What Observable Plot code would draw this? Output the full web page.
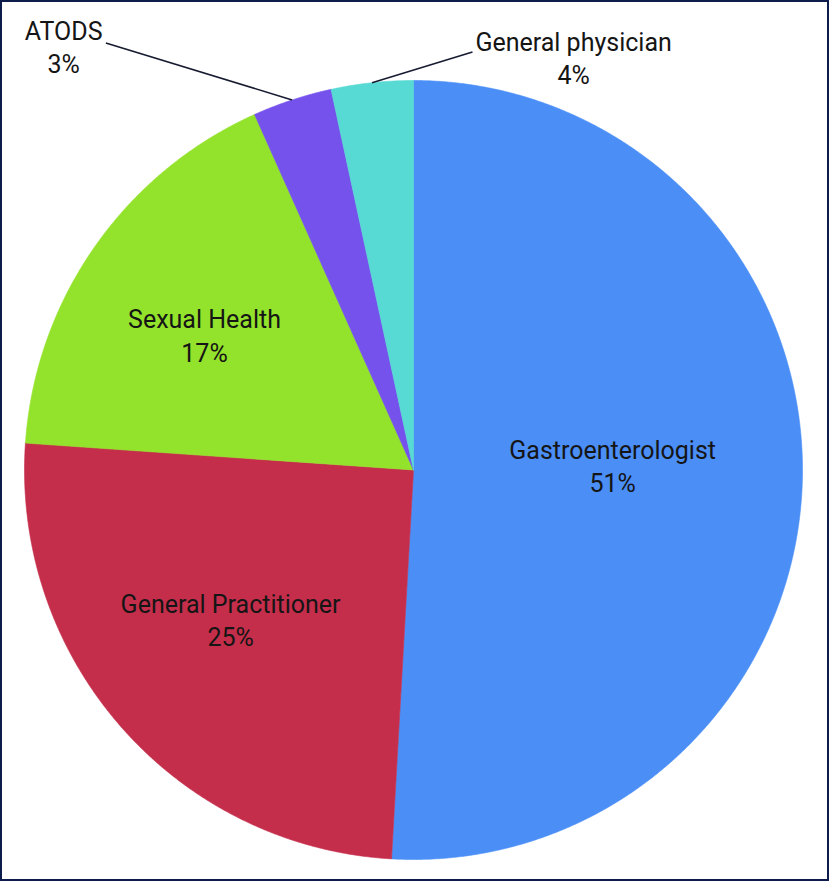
<!DOCTYPE html>
<html><head><meta charset="utf-8">
<script src="https://cdn.jsdelivr.net/npm/d3@7"></script>
<script src="https://cdn.jsdelivr.net/npm/@observablehq/plot@0.6"></script>
<style>
body{margin:0;background:#fff}
#chart svg{display:block;outline:2.5px solid #0e1c4b;outline-offset:-2.5px}
</style>
</head><body><div id="chart"></div>
<script>
// Slices, clockwise from 12 o'clock
const categories = ["Gastroenterologist", "General Practitioner", "Sexual Health", "ATODS", "General physician"];
const values = [50.9, 25.2, 17.2, 3.3, 3.4];           // share of pie (%)
const percentLabels = ["51%", "25%", "17%", "3%", "4%"];
const colors = ["#4a8ef6", "#c52e4b", "#93e22b", "#7552ec", "#57d9d4"];
// label placement in polar form (degrees clockwise from top, fraction of radius)
const labelAngles = [89.6, 230.2, 302.2, 320.2, 21.4];
const labelRadii = [0.512, 0.612, 0.635, 1.405, 1.128];
// leader lines for the small outside labels (end point, polar)
const leaderCategories = ["ATODS", "General physician"];
const leaderEndAngles = [324.2, 8.04];
const leaderEndRadii = [1.352, 1.084];

const rad = d => d * Math.PI / 180;
const total = d3.sum(values);
const slicePoints = [];
const midAngle = {};
let start = 0;
categories.forEach((name, i) => {
  const sweep = values[i] / total * 360;
  const end = start + sweep;
  midAngle[name] = start + sweep / 2;
  slicePoints.push({name, x: 0, y: 0});
  const n = Math.max(2, Math.ceil(sweep / 0.25));
  for (let k = 0; k <= n; k++) {
    const a = rad(start + (end - start) * k / n);
    slicePoints.push({name, x: Math.sin(a), y: Math.cos(a)});
  }
  slicePoints.push({name, x: 0, y: 0});
  start = end;
});

const labels = categories.map((name, i) => ({
  text: name + "\n" + percentLabels[i],
  x: labelRadii[i] * Math.sin(rad(labelAngles[i])),
  y: labelRadii[i] * Math.cos(rad(labelAngles[i]))
}));

const leaders = leaderCategories.map((name, i) => ({
  x1: Math.sin(rad(midAngle[name])),
  y1: Math.cos(rad(midAngle[name])),
  x2: leaderEndRadii[i] * Math.sin(rad(leaderEndAngles[i])),
  y2: leaderEndRadii[i] * Math.cos(rad(leaderEndAngles[i]))
}));

const chart = Plot.plot({
  width: 829,
  height: 881,
  marginLeft: 24,
  marginRight: 27,
  marginTop: 80,
  marginBottom: 22,
  x: {domain: [-1, 1], axis: null},
  y: {domain: [-1, 1], axis: null},
  color: {domain: categories, range: colors},
  style: {fontFamily: "Roboto, sans-serif", background: "#fff"},
  marks: [
    Plot.line(slicePoints, {x: "x", y: "y", z: "name", fill: "name", stroke: "name", strokeWidth: 0.6, curve: "linear"}),
    Plot.link(leaders, {x1: "x1", y1: "y1", x2: "x2", y2: "y2", stroke: "#161b30", strokeWidth: 1.6}),
    Plot.text(labels, {x: "x", y: "y", text: "text", fontSize: 25, lineHeight: 1.34, dy: -4, fill: "#151515", fontFamily: "Roboto"})
  ]
});
document.getElementById("chart").appendChild(chart);
</script>
</body></html>
